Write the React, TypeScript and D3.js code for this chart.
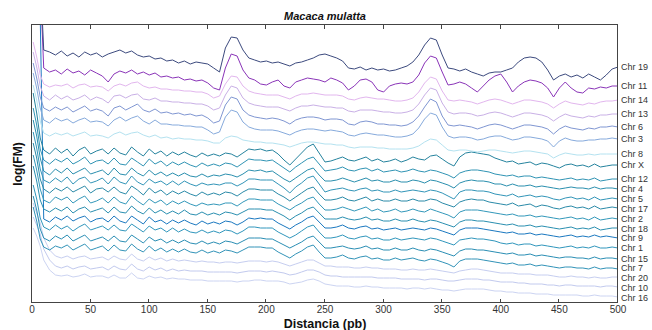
import React from "react";
import * as d3 from "d3";

// Distance (pb) sampling positions
const distancias: number[] = [1, 4, 7, ...d3.range(10, 501, 5)];
const ticksX: number[] = d3.range(0, 501, 50);

const cromosomas: string[] = [
  "Chr 19", "Chr 11", "Chr 14", "Chr 13", "Chr 6", "Chr 3", "Chr 8", "Chr X",
  "Chr 12", "Chr 4", "Chr 5", "Chr 17", "Chr 2", "Chr 18", "Chr 9", "Chr 1",
  "Chr 15", "Chr 7", "Chr 20", "Chr 10", "Chr 16",
];

// vertical stacking offsets of each curve (log(FM) + offset)
const desplazamientos: number[] = [
  246, 228, 213, 202, 190, 179, 165, 147, 137, 128, 118, 109, 99, 89, 80, 71, 61, 51, 42, 33, 24,
];

const colores: string[] = [
  "#3c4a7e", "#8a34b8", "#e2b6ee", "#c9b0e6", "#7f96d2", "#86aadc", "#b4e2f0", "#25839e",
  "#3094b4", "#2a8fae", "#3295b8", "#2a8aa8", "#3398ba", "#2a8fb0", "#1a78c0", "#3096bc",
  "#2a8eb4", "#3293b8", "#c6cef0", "#c2caee", "#ccd4f2",
];

// log(FM) deviations, first three at x = 1, 4, 7 then every 5 pb from 10 to 500
const chr19 = [200,150,80, 4,2,-1,3,-2,1,-3,2,-1,1, -3,0,2,4,1,3,-1,-3,-2,-5, -4,-7,-6,-9,-7,-10,-8,-9,-10,-14, -18,6,17,16,4,-4,-6,-8,-7,-9, -8,-10,-12,-9,-8,-6,-4,-1,0,-2, -4,-7,-14,-15,-13,-16,-14,-16,-15,-17, -16,-14,-12,-8,-1,9,16,14,-1,-14, -15,-17,-15,-18,-20,-22,-19,-18,-18,-16, -14,-8,-4,-3,-4,-8,-16,-26,-22,-20, -23,-21,-24,-20,-23,-26,-21,-15,-13];
const chr11 = [200,160,90, 4,0,2,-2,3,-1,1,-3,2,-1, -4,-10,-2,1,-1,2,-2,0,-3,-1, -5,-4,-6,-5,-8,-7,-9,-8,-11,-16, -18,4,18,16,2,-6,-8,-12,-13,-10, -8,-14,-16,-10,-8,-6,-7,-8,-10,-6, -8,-11,-18,-14,-8,-7,-10,-18,-20,-14, -12,-11,-12,-10,-3,9,16,14,0,-13, -12,-10,-12,-16,-20,-14,-8,-4,-2,-10, -20,-14,-10,-8,-9,-11,-16,-25,-16,-10, -16,-20,-21,-16,-17,-15,-16,-14,-14];
const chr14 = [45,30,12, 3,0,2,1,3,-1,2,3,0,1, 0,-4,1,3,1,4,5,1,-1,0, -2,-2,-3,-3,-4,-4,-5,-5,-7,-11, -9,3,11,10,1,-4,-6,-7,-8,-8, -8,-10,-12,-9,-7,-7,-6,-7,-8,-8, -8,-9,-12,-13,-11,-10,-11,-12,-12,-13, -14,-14,-13,-11,-5,4,10,8,-4,-13, -14,-13,-14,-15,-17,-15,-13,-12,-13,-15, -17,-15,-13,-13,-14,-15,-17,-21,-17,-14, -16,-17,-18,-16,-17,-15,-14,-14,-13];
const chr13 = [46,31,12, 2,-2,3,-1,2,-2,0,3,-2,1, -1,-5,2,3,0,3,4,-1,-2,0, -3,-3,-4,-4,-5,-5,-6,-6,-8,-12, -10,3,12,10,0,-5,-7,-8,-9,-9, -9,-11,-13,-10,-8,-8,-7,-8,-9,-9, -10,-10,-13,-14,-12,-12,-12,-13,-14,-14, -15,-15,-14,-12,-6,3,10,8,-5,-14, -16,-15,-15,-16,-18,-17,-15,-14,-15,-17, -19,-17,-15,-15,-16,-17,-19,-23,-19,-16, -18,-19,-20,-18,-19,-17,-17,-16,-16];
const chr6 = [47,32,13, 2,-1,3,0,3,-2,1,4,-1,1, -1,-6,2,4,0,3,6,0,-2,1, -3,-2,-4,-3,-5,-4,-6,-5,-8,-13, -11,5,13,11,0,-5,-7,-8,-9,-8, -9,-11,-14,-10,-8,-7,-7,-8,-10,-9, -9,-10,-14,-15,-12,-11,-12,-14,-14,-15, -15,-16,-15,-12,-6,3,11,8,-6,-15, -16,-15,-16,-17,-19,-17,-15,-14,-15,-17, -19,-17,-15,-15,-16,-17,-19,-24,-19,-16, -18,-19,-20,-18,-19,-17,-17,-16,-17];
const chr3 = [48,33,13, 1,-2,3,0,2,-2,1,3,-1,0, -1,-5,1,4,0,3,5,0,-3,1, -3,-3,-4,-4,-5,-5,-6,-6,-9,-13, -11,4,11,9,-1,-6,-8,-9,-9,-9, -10,-12,-14,-11,-9,-8,-8,-9,-10,-9, -10,-11,-14,-15,-13,-12,-13,-14,-14,-15, -16,-16,-15,-13,-7,2,8,6,-6,-15, -17,-16,-16,-17,-19,-18,-16,-15,-15,-17, -19,-18,-16,-16,-17,-18,-20,-26,-20,-17, -19,-20,-20,-19,-19,-18,-18,-17,-18];
const chr8 = [50,35,14, 2,-1,2,0,2,-1,1,3,-1,0, -1,-3,1,3,0,2,3,0,-2,0, -3,-2,-4,-3,-4,-4,-5,-5,-6,-8, -8,-3,-1,-2,-5,-6,-7,-7,-8,-8, -9,-10,-12,-10,-8,-7,-7,-8,-9,-9, -10,-10,-12,-13,-12,-12,-12,-13,-13,-14, -14,-14,-14,-13,-11,-7,-4,-5,-10,-15, -16,-15,-15,-16,-17,-16,-15,-15,-16,-17, -18,-17,-16,-16,-17,-18,-19,-23,-20,-18, -19,-20,-20,-19,-20,-19,-19,-19,-19];
const chrX = [60,40,15, 3,-1,5,0,4,-3,3,6,-1,2, 4,-1,5,0,-2,6,1,-3,4,-1, 2,-3,1,-2,1,-2,-4,0,-3,-1, -3,0,-1,-4,0,4,3,4,2,3, -1,-7,-12,-6,0,6,9,0,-9,-8, -6,-4,-7,-8,-6,-4,-8,-6,-9,-8, -6,-9,-7,-4,-6,-7,-3,-2,-6,-10, -13,-4,0,1,0,-1,-2,-5,-7,-9, -8,-11,-10,-9,-12,-10,-11,-13,-15,-12, -11,-13,-12,-14,-11,-14,-13,-12,-12];
const chr12 = [55,38,14, 3,-1,4,1,5,-1,2,6,-1,2, 3,-1,5,-1,-2,5,1,-3,4,-1, 2,-3,1,-2,1,-2,-4,0,-3,-1, -3,0,-1,-4,0,4,3,3,2,3, -1,-5,-9,-4,0,4,6,-1,-8,-7, -6,-4,-7,-8,-6,-5,-8,-6,-9,-8, -7,-9,-8,-6,-8,-9,-7,-8,-10,-12, -15,-10,-8,-7,-7,-8,-9,-11,-12,-13, -12,-14,-13,-13,-15,-14,-15,-16,-17,-16, -15,-17,-16,-17,-15,-18,-17,-16,-16];
const chr4 = [52,36,14, 1,-3,3,-1,4,-2,1,4,-2,0, 2,-3,4,-2,-3,4,-1,-4,2,-3, 0,-4,-1,-4,-1,-4,-5,-2,-5,-3, -4,-2,-3,-5,-2,2,1,2,0,1, -3,-7,-10,-6,-2,2,4,-3,-9,-9, -8,-6,-8,-10,-8,-6,-9,-8,-10,-10, -8,-10,-10,-8,-9,-11,-8,-9,-11,-13, -16,-11,-9,-8,-9,-9,-10,-12,-12,-14, -12,-14,-14,-13,-15,-14,-15,-16,-17,-16, -15,-16,-16,-17,-15,-17,-16,-16,-17];
const chr5 = [50,34,13, 2,-1,4,0,5,-2,3,5,-1,1, 4,-2,5,0,-2,6,0,-3,3,-1, 1,-3,1,-3,1,-2,-4,-1,-3,-2, -3,-1,-1,-4,-1,3,3,2,2,2, -2,-6,-11,-5,-1,4,6,-2,-10,-8, -7,-6,-8,-9,-7,-6,-9,-8,-10,-10, -8,-10,-9,-8,-9,-10,-8,-9,-11,-14, -17,-10,-8,-8,-9,-9,-10,-12,-13,-14, -12,-15,-14,-13,-15,-14,-15,-17,-18,-16, -15,-17,-16,-18,-15,-18,-17,-16,-17];
const chr17 = [48,33,12, 2,-2,3,0,4,-1,2,5,-2,2, 3,-1,4,-1,-3,5,1,-4,3,-2, 1,-4,0,-3,0,-3,-5,-1,-4,-2, -4,-1,-2,-5,-1,2,2,1,1,1, -3,-6,-10,-6,-2,2,4,-3,-9,-9, -8,-6,-9,-10,-8,-6,-10,-8,-10,-10, -8,-10,-10,-8,-10,-10,-8,-9,-12,-14, -16,-11,-9,-8,-9,-9,-11,-12,-13,-14, -12,-15,-14,-13,-16,-14,-15,-17,-18,-16, -15,-17,-16,-18,-15,-18,-17,-16,-17];
const chr2 = [46,31,12, 1,-2,4,1,4,-2,2,5,-2,0, 3,-2,4,-1,-3,5,0,-4,2,-2, 1,-4,0,-3,0,-3,-5,-2,-4,-3, -4,-2,-2,-5,-1,2,2,1,1,1, -3,-6,-9,-5,-2,2,4,-3,-9,-9, -8,-6,-8,-10,-8,-6,-10,-8,-11,-10, -8,-11,-10,-8,-10,-11,-8,-10,-12,-14, -17,-11,-9,-9,-9,-10,-11,-12,-13,-14, -13,-15,-15,-14,-16,-15,-16,-17,-18,-17, -16,-18,-17,-19,-16,-19,-18,-17,-18];
const chr18 = [45,30,11, 2,-1,3,0,4,-2,2,4,-1,1, 3,-2,4,-1,-2,5,0,-3,3,-2, 1,-3,0,-3,1,-3,-4,-1,-4,-2, -4,-1,-2,-4,-1,2,2,2,1,1, -2,-5,-9,-5,-2,2,4,-2,-8,-8, -8,-6,-8,-9,-8,-6,-9,-8,-10,-10, -8,-10,-10,-8,-10,-11,-9,-10,-12,-14, -16,-11,-9,-9,-10,-10,-11,-12,-13,-14, -13,-15,-15,-14,-16,-15,-16,-17,-18,-17, -16,-18,-17,-18,-16,-19,-18,-17,-17];
const chr9 = [250,230,205, 1,-2,3,0,4,-1,2,4,-2,1, 2,-2,4,-1,-3,4,0,-4,3,-2, 0,-4,0,-3,0,-3,-5,-1,-4,-2, -4,-1,-2,-5,-2,2,1,2,1,1, -3,-6,-9,-5,-2,2,4,-2,-8,-8, -7,-5,-8,-9,-7,-6,-9,-8,-10,-9, -8,-10,-9,-8,-9,-10,-8,-9,-11,-13, -15,-10,-8,-8,-8,-9,-10,-11,-12,-13, -12,-14,-14,-13,-15,-14,-15,-16,-17,-16, -15,-17,-16,-17,-15,-17,-16,-17,-18];
const chr1 = [44,30,11, 2,-1,4,0,3,-2,2,5,-1,1, 3,-1,4,-1,-2,5,1,-3,3,-1, 1,-3,1,-3,0,-3,-4,-1,-4,-2, -4,-1,-2,-5,-2,2,2,1,1,1, -3,-6,-9,-6,-2,2,4,-3,-9,-9, -8,-6,-9,-10,-8,-7,-10,-9,-11,-11, -9,-11,-10,-9,-10,-11,-9,-10,-12,-14, -16,-11,-10,-9,-10,-10,-11,-12,-14,-15, -14,-16,-15,-15,-17,-16,-17,-18,-19,-18, -17,-19,-18,-19,-17,-19,-19,-18,-19];
const chr15 = [43,29,10, 1,-2,3,0,4,-2,1,4,-2,0, 2,-2,3,-2,-3,4,0,-4,2,-2, 0,-4,-1,-4,-1,-4,-5,-2,-5,-3, -5,-2,-3,-5,-2,1,1,1,0,0, -3,-6,-9,-6,-3,1,3,-3,-9,-9, -8,-7,-9,-10,-9,-7,-10,-9,-11,-11, -9,-11,-11,-9,-11,-12,-10,-11,-13,-15, -17,-12,-10,-10,-11,-11,-12,-13,-14,-15, -14,-16,-16,-15,-17,-16,-17,-18,-19,-18, -18,-19,-19,-20,-18,-20,-19,-19,-20];
const chr7 = [42,28,10, 2,-1,3,1,4,-1,2,5,-1,1, 3,-2,4,-1,-2,5,0,-3,3,-2, 1,-3,0,-3,0,-3,-4,-1,-4,-2, -4,-1,-2,-4,-1,2,2,2,1,1, -3,-6,-9,-5,-2,2,4,-3,-9,-9, -8,-6,-9,-10,-8,-7,-10,-9,-11,-11, -9,-11,-10,-9,-11,-12,-10,-11,-13,-15, -18,-12,-10,-10,-10,-11,-12,-13,-14,-15, -14,-16,-16,-15,-17,-16,-17,-18,-19,-18, -18,-19,-19,-20,-18,-20,-19,-19,-20];
const chr20 = [55,45,35, 20,8,2,0,2,-1,1,2,-1,0, 1,-2,2,-1,-2,4,-1,-3,1,-2, 0,-3,-1,-3,-2,-3,-4,-3,-4,-4, -5,-4,-4,-5,-4,-3,-3,-3,-4,-3, -4,-6,-8,-6,-4,-2,-2,-5,-8,-8, -9,-9,-9,-10,-10,-9,-10,-10,-11,-11, -11,-12,-12,-11,-12,-12,-11,-12,-13,-14, -15,-13,-12,-11,-11,-12,-13,-14,-15,-15, -15,-16,-16,-16,-17,-17,-17,-18,-19,-19, -18,-19,-19,-20,-19,-20,-20,-19,-19];
const chr10 = [50,42,33, 18,7,1,-1,1,-2,0,1,-2,-1, 0,-3,1,-2,-3,3,-2,-4,0,-3, -1,-4,-2,-4,-3,-4,-4,-4,-5,-5, -5,-5,-5,-6,-5,-4,-4,-4,-5,-4, -5,-6,-8,-7,-5,-3,-3,-5,-8,-9, -9,-10,-10,-10,-10,-10,-10,-11,-11,-11, -11,-12,-12,-12,-12,-13,-12,-12,-13,-14, -14,-13,-12,-12,-12,-13,-13,-14,-15,-15, -15,-16,-16,-17,-17,-17,-18,-18,-19,-18, -18,-19,-19,-19,-19,-20,-19,-19,-20];
const chr16 = [48,40,30, 16,6,1,0,1,-1,0,2,-1,0, 0,-2,1,-2,-2,3,-2,-3,0,-2, -1,-3,-2,-3,-3,-4,-4,-4,-5,-5, -5,-5,-5,-6,-5,-5,-4,-4,-5,-5, -5,-6,-8,-7,-6,-4,-3,-5,-8,-9, -10,-10,-10,-11,-11,-10,-11,-11,-12,-12, -12,-12,-13,-12,-12,-13,-12,-13,-14,-14, -15,-14,-13,-13,-13,-13,-14,-15,-15,-16, -16,-17,-17,-17,-18,-18,-18,-19,-19,-19, -19,-19,-20,-20,-19,-20,-20,-20,-21];

const series: number[][] = [
  chr19, chr11, chr14, chr13, chr6, chr3, chr8, chrX, chr12, chr4, chr5, chr17,
  chr2, chr18, chr9, chr1, chr15, chr7, chr20, chr10, chr16,
];

export default function App() {
  const W = 652;
  const H = 330;
  const left = 32, right = 618, top = 25, bottom = 303;
  const x = d3.scaleLinear().domain([0, 500]).range([left, right]);
  const y = d3.scaleLinear().domain([-3, 275]).range([bottom, top]);
  const font = "'Liberation Sans', Arial, sans-serif";

  const curves = series.map((vals, k) =>
    vals.map((v, i) => [distancias[i], desplazamientos[k] + v] as [number, number])
  );
  const line = d3
    .line<[number, number]>()
    .x((d) => x(d[0]))
    .y((d) => y(d[1]));

  // label positions at curve ends, nudged apart (forward and backward) only where needed
  const gap = 9.6;
  const ends = curves.map((c) => y(c[c.length - 1][1]));
  const down = ends.slice();
  for (let i = 1; i < down.length; i++) {
    if (down[i] < down[i - 1] + gap) down[i] = down[i - 1] + gap;
  }
  const up = ends.slice();
  for (let i = up.length - 2; i >= 0; i--) {
    if (up[i] > up[i + 1] - gap) up[i] = up[i + 1] - gap;
  }
  const labelY = ends.map((_, i) => (down[i] + up[i]) / 2);
  for (let i = 1; i < labelY.length; i++) {
    if (labelY[i] < labelY[i - 1] + gap) labelY[i] = labelY[i - 1] + gap;
  }

  const order = d3.range(series.length).reverse();

  return (
    <svg
      width={W}
      height={H}
      style={{ position: "absolute", left: 0, top: 0, background: "#fff" }}
    >
      <defs>
        <clipPath id="plot-clip">
          <rect x={left} y={top} width={right - left} height={bottom - top} />
        </clipPath>
      </defs>
      <rect x={0} y={0} width={W} height={H} fill="#fff" />
      <g clipPath="url(#plot-clip)">
        {order.map((k) => (
          <path
            key={cromosomas[k]}
            d={line(curves[k]) || ""}
            fill="none"
            stroke={colores[k]}
            strokeWidth={1}
            strokeLinejoin="round"
          />
        ))}
      </g>
      <rect
        x={left - 0.5}
        y={top - 0.5}
        width={right - left}
        height={bottom - top}
        fill="none"
        stroke="#444"
        strokeWidth={1}
      />
      {ticksX.map((t) => (
        <g key={t}>
          <line x1={Math.round(x(t)) - 0.5} x2={Math.round(x(t)) - 0.5} y1={bottom} y2={bottom - 4} stroke="#444" />
          <line x1={Math.round(x(t)) - 0.5} x2={Math.round(x(t)) - 0.5} y1={top} y2={top + 4} stroke="#444" />
          <text
            x={x(t)}
            y={bottom + 9.5}
            textAnchor="middle"
            fontSize={10}
            fontFamily={font}
            fill="#333"
          >
            {t}
          </text>
        </g>
      ))}
      {cromosomas.map((c, k) => (
        <text
          key={c}
          x={right + 3}
          y={labelY[k] + 3.2}
          fontSize={9}
          fontFamily={font}
          fill="#333"
        >
          {c}
        </text>
      ))}
      <text
        x={(left + right) / 2}
        y={20}
        textAnchor="middle"
        fontSize={11}
        fontWeight="bold"
        fontStyle="italic"
        fontFamily={font}
        fill="#111"
      >
        Macaca mulatta
      </text>
      <text
        x={(left + right) / 2}
        y={328}
        textAnchor="middle"
        fontSize={12.5}
        fontWeight="bold"
        fontFamily={font}
        fill="#111"
      >
        Distancia (pb)
      </text>
      <text
        transform={`translate(22, ${(top + bottom) / 2}) rotate(-90)`}
        textAnchor="middle"
        fontSize={12}
        fontWeight="bold"
        fontFamily={font}
        fill="#111"
      >
        log(FM)
      </text>
    </svg>
  );
}
